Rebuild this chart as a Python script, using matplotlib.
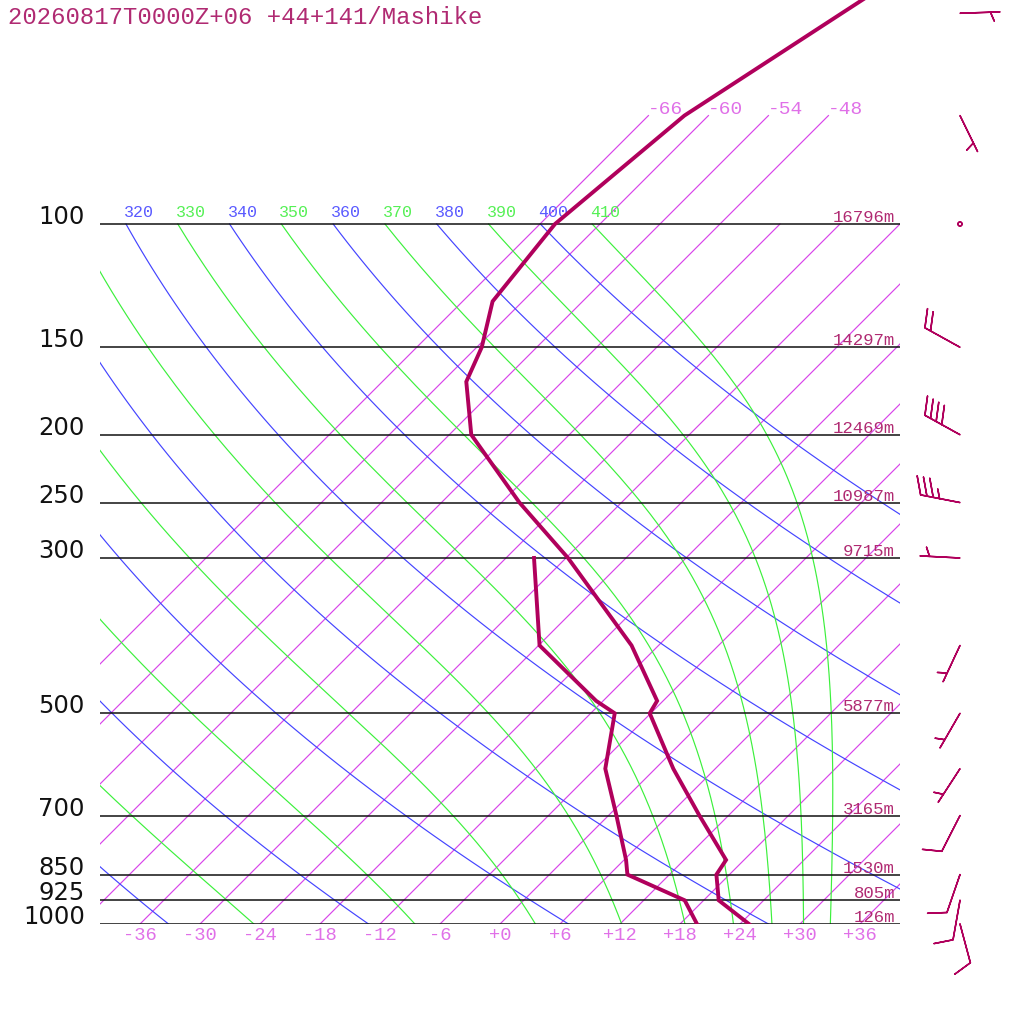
import numpy as np
import matplotlib.pyplot as plt

title = "20260817T0000Z+06 +44+141/Mashike"

# sounding (hPa, degC)
pres = [1000, 925, 850, 810, 700, 600, 500, 480, 400, 300, 250, 200, 168, 150, 129, 100, 70, 50, 30]
temp = [24.9, 19.5, 16.7, 16.2, 9.1, 1.8, -6.1, -6.6, -14.7, -29.8, -40.2, -51.8, -57.6, -59.5, -63.0, -64.5, -62.4, -56.9, -48.5]
dew_pres = [1000, 925, 850, 810, 700, 600, 500, 480, 400, 300]
dewp = [19.7, 16.1, 7.8, 6.2, 0.8, -5.0, -9.6, -12.7, -23.9, -33.2]

# winds (hPa, deg, kt)
wind_pres = [1000, 925, 850, 700, 600, 500, 400, 300, 250, 200, 150, 100, 70, 50]
wind_dir = [165, 190, 199, 207, 213, 210, 205, 273, 281, 299, 299, 0, 154, 88]
wind_spd = [10, 10, 10, 10, 5, 5, 5, 5, 35, 40, 20, 0, 5, 5]

# labelled pressure levels and their heights
levels = [100, 150, 200, 250, 300, 500, 700, 850, 925, 1000]
heights = ['16796m', '14297m', '12469m', '10987m', '9715m', '5877m', '3165m', '1530m', '805m', '126m']

# background lines
iso_temps = [-66, -60, -54, -48, -42, -36, -30, -24, -18, -12, -6, 0, 6, 12, 18, 24, 30, 36]
iso_top_labeled = [-66, -60, -54, -48]
dry_thetas = [240, 260, 280, 300, 320, 340, 360, 380, 400]
moist_thetas = [250, 270, 290, 310, 330, 350, 370, 390, 410]

MAG = '#b0005c'
TXT = '#b02a72'
ISO = '#d845ea'
ISO_TXT = '#e070e8'
BLUE = '#4444ff'
GREEN = '#3cf03c'
MONO = 'Liberation Mono'
KAPPA = 0.2857


def skew_x(t, p):
    return np.asarray(t) + 70 * np.log10(1000 / np.asarray(p, dtype=float))


def moist_adiabat(theta_top, p):
    # integrate a pseudo-adiabat down from 100 hPa
    Rd, cp, Lv, eps = 287.04, 1005.7, 2.501e6, 0.622

    def dtdp(T, pp):
        es = 6.112 * np.exp(17.67 * (T - 273.15) / (T - 29.65))
        rs = eps * es / (pp - es)
        return (Rd * T + Lv * rs) / (cp + Lv * Lv * rs * eps / (Rd * T * T)) / pp

    T = theta_top * (p[0] / 1000) ** KAPPA
    out = [T]
    for i in range(1, len(p)):
        dp = p[i] - p[i - 1]
        k1 = dtdp(T, p[i - 1])
        k2 = dtdp(T + dp * k1, p[i])
        T = T + dp * (k1 + k2) / 2
        out.append(T)
    return np.array(out) - 273.15


def top_label(x, text, color):
    # adiabat value written just above the 100 hPa line, clipped at the plot's left edge
    if x < -44:
        return
    ax.text(x - 0.2, 96.4, text, color=color, fontsize=12, family=MONO,
            ha='left', va='center', clip_on=True, clip_box=ax.bbox)


fig = plt.figure(figsize=(10.24, 10.24), dpi=100)
ax = fig.add_axes([100 / 1024, 100 / 1024, 800 / 1024, 924 / 1024])
ax.set_yscale('log')
ax.set_xlim(-40, 40)
ax.set_ylim(1000, 1000 * 10 ** (-924 / 700))
ax.axis('off')

# isotherms
for t in iso_temps:
    ptop = 70 if t in iso_top_labeled else 100
    pp = np.array([1000, ptop])
    ax.plot(skew_x(t, pp), pp, color=ISO, lw=0.85, zorder=1)
    if t in iso_top_labeled:
        ax.text(skew_x(t, 70) - 0.1, 68.6, f"{t:+d}", color=ISO_TXT, fontsize=14,
                family=MONO, ha='left', va='center')

# dry adiabats
pp = np.logspace(3, 2, 80)
for th in dry_thetas:
    tt = th * (pp / 1000) ** KAPPA - 273.15
    ax.plot(skew_x(tt, pp), pp, color=BLUE, lw=0.85, zorder=1)
    top_label(skew_x(tt[-1], 100), str(th), '#5a5aff')

# moist adiabats
pm = np.linspace(100, 1000, 181)
for th in moist_thetas:
    tt = moist_adiabat(th, pm)
    ax.plot(skew_x(tt, pm), pm, color=GREEN, lw=0.85, zorder=1)
    top_label(skew_x(tt[0], 100), str(th), '#55f055')

# pressure levels
for p, h in zip(levels, heights):
    ax.plot([-40, 40], [p, p], color='#111111', lw=1.1, zorder=2)
    ax.text(-41.5, p, str(p), color='#111111', fontsize=17.5, family='DejaVu Sans',
            ha='right', va='baseline', clip_on=False)
    ax.text(39.5, p * 10 ** (-2 / 700), h, color=TXT, fontsize=12.5, family=MONO,
            ha='right', va='baseline')

# temperature axis labels
for t in range(-36, 37, 6):
    ax.text(t, 1000 * 10 ** (12 / 700), f"{t:+d}", color=ISO_TXT, fontsize=13.5,
            family=MONO, ha='center', va='center', clip_on=False)

# profiles
ax.plot(skew_x(temp, pres), pres, color=MAG, lw=2.8, zorder=5, solid_joinstyle='miter')
ax.plot(skew_x(dewp, dew_pres), dew_pres, color=MAG, lw=2.8, zorder=5, solid_joinstyle='miter')

# wind barbs
rad = np.deg2rad(wind_dir)
u = -np.array(wind_spd) * np.sin(rad)
v = -np.array(wind_spd) * np.cos(rad)
ax.barbs(np.full(len(wind_pres), 46.0), wind_pres, u, v, length=7.6, color=MAG,
         linewidth=1.1, clip_on=False, zorder=6,
         sizes=dict(spacing=0.16, height=0.45, width=0.35, emptybarb=0.05))

fig.text(8 / 1024, 1 - 18 / 1024, title, color=TXT, fontsize=17.2, family=MONO,
         ha='left', va='center')

fig.savefig('out.png', dpi=100)
